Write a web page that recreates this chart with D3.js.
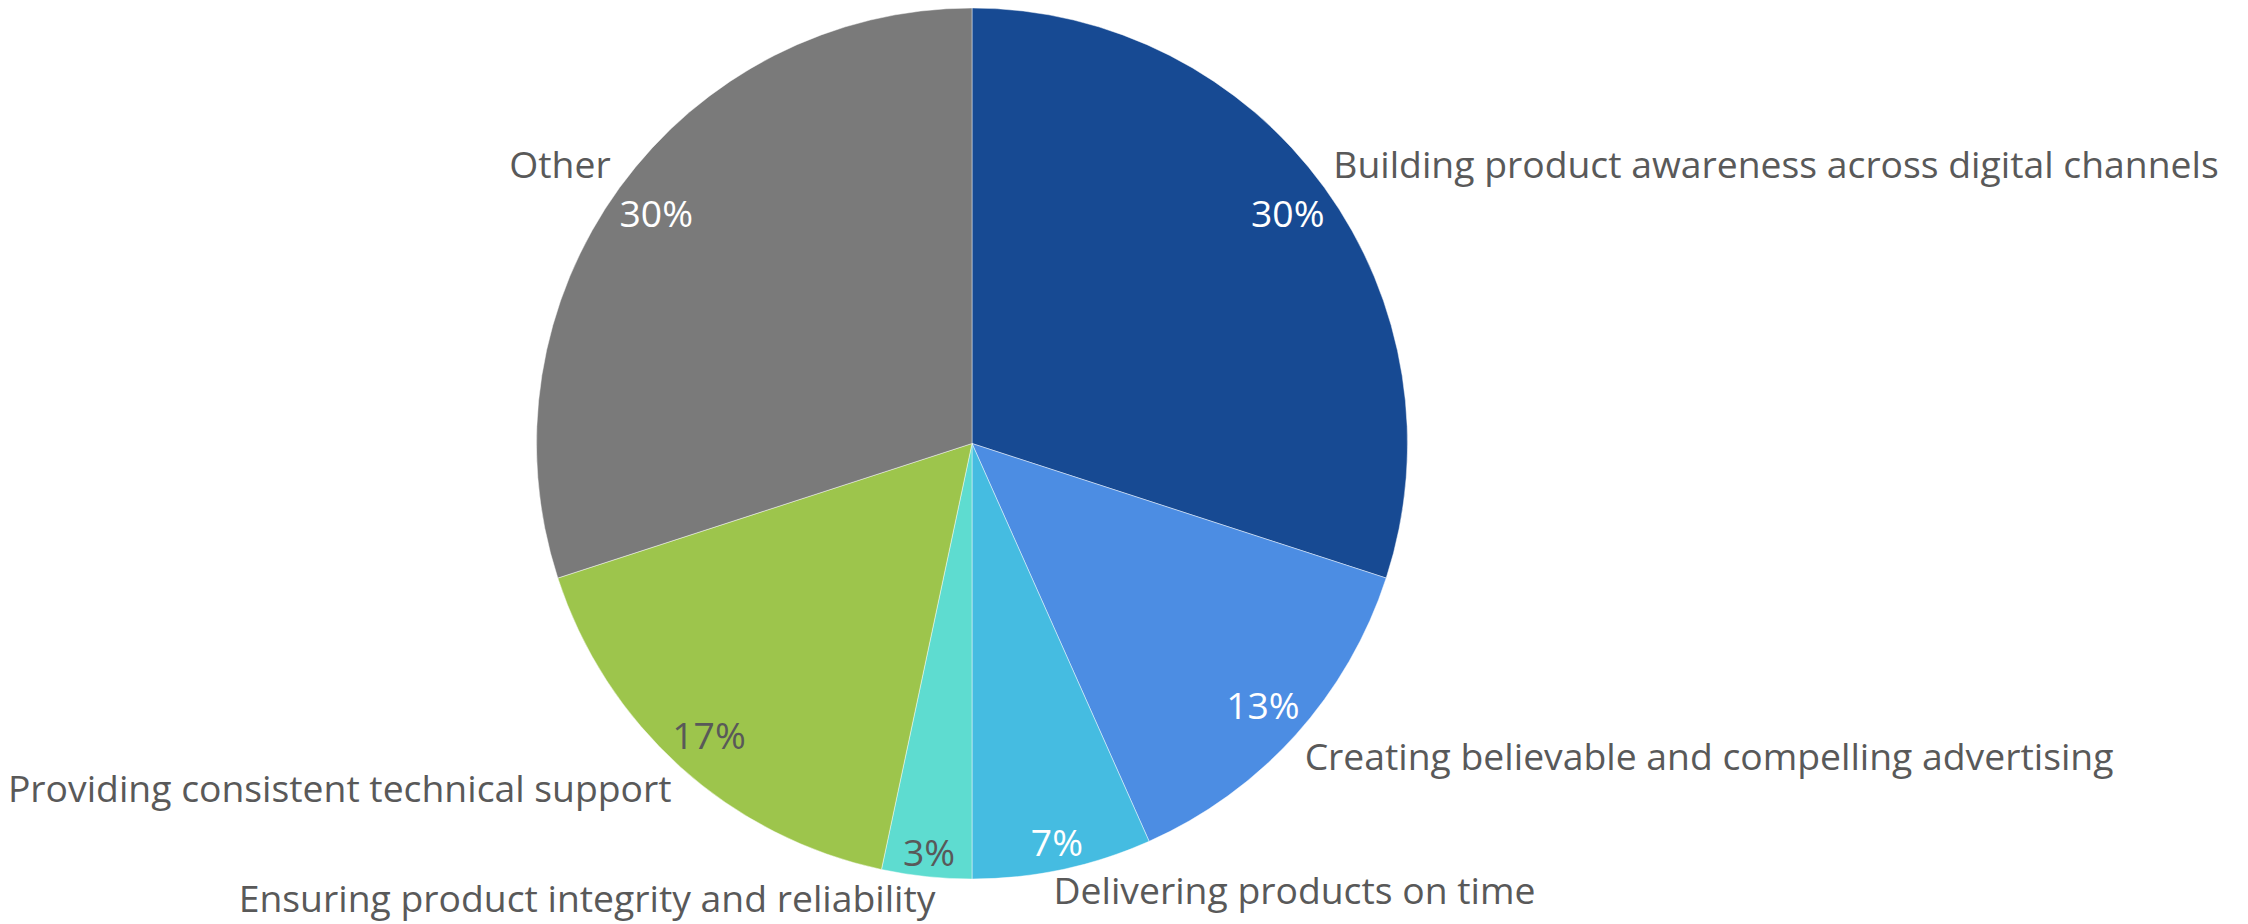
<!DOCTYPE html>
<html>
<head>
<meta charset="utf-8">
<script src="https://cdn.jsdelivr.net/npm/d3@7"></script>
<style>
  html, body { margin: 0; padding: 0; background: #ffffff; }
  svg { display: block; }
  text { font-family: "Open Sans", "Noto Sans", sans-serif; }
</style>
</head>
<body>
<script>
// Survey responses per priority (share of 30 responses)
const categories = [
  "Building product awareness across digital channels",
  "Creating believable and compelling advertising",
  "Delivering products on time",
  "Ensuring product integrity and reliability",
  "Providing consistent technical support",
  "Other"
];
const responses = [9, 4, 2, 1, 5, 9];

// Slice fills and the text colour used for the value inside each slice
const sliceColors = ["#174a93", "#4c8de3", "#45bce1", "#5edcd0", "#9dc54c", "#7a7a7a"];
const valueTextColors = ["#ffffff", "#ffffff", "#ffffff", "#595959", "#595959", "#ffffff"];

const W = 2248, H = 924;
const cx = 972, cy = 443.5, R = 435.5;
const fontSize = 37.3;
const capHalf = 13.3;       // half the cap height at this font size
const valueBoxH = 31;       // label box height used when fitting values inside slices

const total = d3.sum(responses);
const data = categories.map((c, i) => ({ name: c, count: responses[i], i }));

const svg = d3.select("body").append("svg")
  .attr("width", W).attr("height", H);

const g = svg.append("g").attr("transform", `translate(${cx},${cy})`);

const pie = d3.pie().sort(null).value(d => d.count).startAngle(0).endAngle(2 * Math.PI);
const arcs = pie(data);
const arc = d3.arc().innerRadius(0).outerRadius(R);

g.selectAll("path.slice")
  .data(arcs)
  .join("path")
  .attr("class", "slice")
  .attr("d", arc)
  .attr("fill", d => sliceColors[d.data.i])
  .attr("stroke", "#ffffff")
  .attr("stroke-width", 1)
  .attr("stroke-opacity", 0.45);

const pct = d => Math.round(d.data.count / total * 100) + "%";
const mid = d => (d.startAngle + d.endAngle) / 2;

// Percentages sit just inside the rim of each slice
g.selectAll("text.value")
  .data(arcs)
  .join("text")
  .attr("class", "value")
  .attr("text-anchor", "middle")
  .attr("font-size", fontSize)
  .attr("fill", d => valueTextColors[d.data.i])
  .text(pct)
  .each(function (d) {
    const a = mid(d);
    const s = Math.sin(a), c = Math.cos(a);
    const w = this.getComputedTextLength();
    const r = R - 6.4 - (w / 2 * Math.abs(s) + valueBoxH / 2 * Math.abs(c));
    d3.select(this)
      .attr("x", r * s)
      .attr("y", -r * c + capHalf);
  });

// Category names sit outside the pie, next to the rim at each slice's middle
g.selectAll("text.category")
  .data(arcs)
  .join("text")
  .attr("class", "category")
  .attr("font-size", fontSize)
  .attr("fill", "#595959")
  .text(d => d.data.name)
  .each(function (d) {
    const a = mid(d);
    const s = Math.sin(a), c = Math.cos(a);
    const ex = R * s, ey = -R * c;
    const pad = Math.abs(s) > 0.5 ? 9 : -9;
    const dir = s >= 0 ? 1 : -1;
    d3.select(this)
      .attr("text-anchor", dir > 0 ? "start" : "end")
      .attr("x", ex + dir * pad)
      .attr("y", c > 0 ? ey - 10 : ey + 35);
  });
</script>
</body>
</html>
